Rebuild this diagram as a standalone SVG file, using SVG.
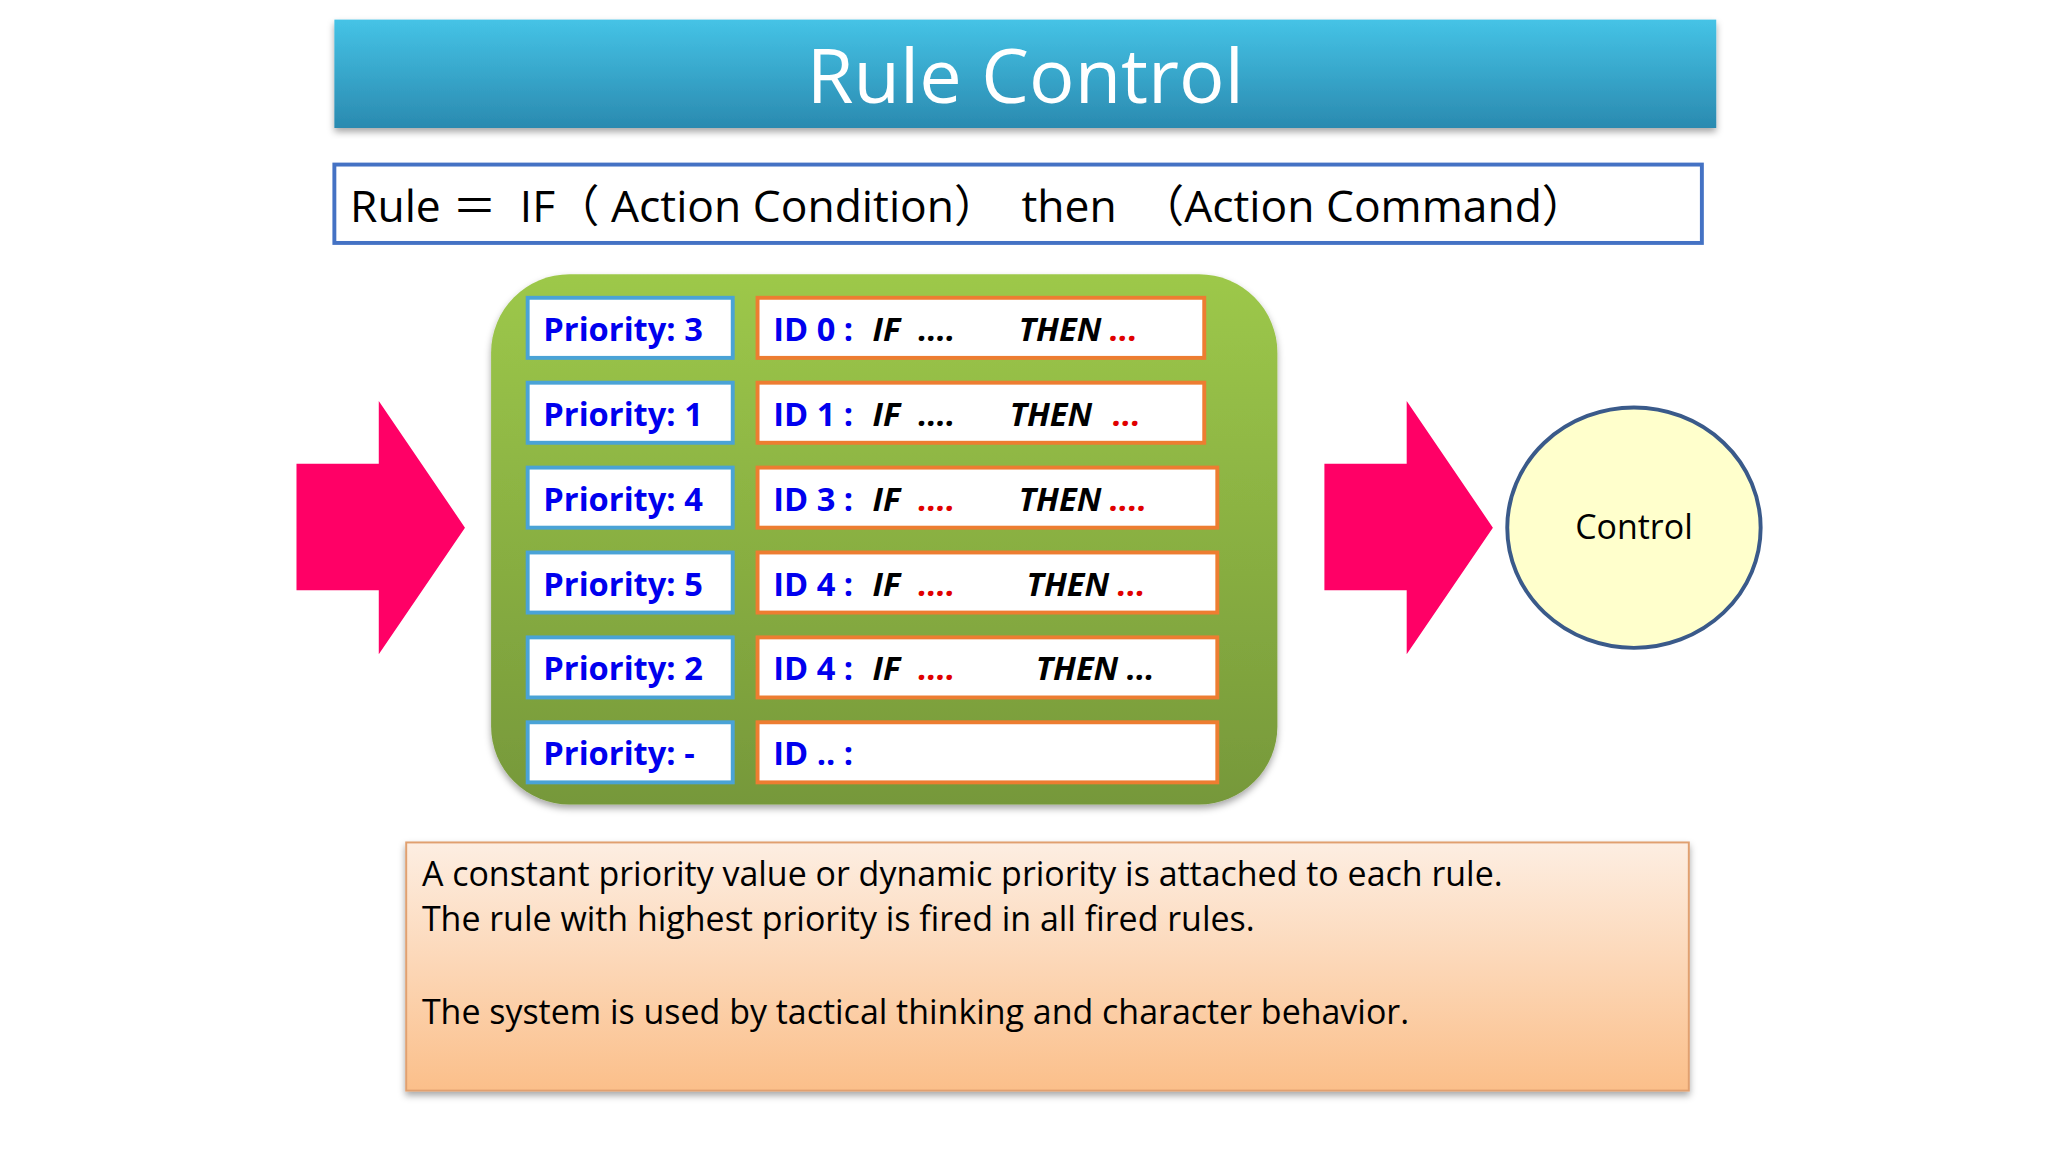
<svg xmlns="http://www.w3.org/2000/svg" width="2048" height="1152" viewBox="0 0 2048 1152">
<defs>
<linearGradient id="gt" x1="0" y1="0" x2="0" y2="1"><stop offset="0" stop-color="#45c3e6"/><stop offset="1" stop-color="#2a8ab0"/></linearGradient>
<linearGradient id="gg" x1="0" y1="0" x2="0" y2="1"><stop offset="0" stop-color="#9dc84a"/><stop offset="1" stop-color="#76983a"/></linearGradient>
<linearGradient id="go" x1="0" y1="0" x2="0" y2="1"><stop offset="0" stop-color="#fdeee2"/><stop offset="1" stop-color="#fbbf8a"/></linearGradient>
<filter id="sh" x="-5%" y="-5%" width="110%" height="115%"><feDropShadow dx="0" dy="3" stdDeviation="3" flood-opacity="0.35"/></filter>
<style>
.p{fill:#fff;stroke:#4aa3d6;stroke-width:3}
.i{fill:#fff;stroke:#ed7d31;stroke-width:3}
.pt{font-family:"Open Sans","Liberation Sans",sans-serif;font-weight:bold;font-size:25px;fill:#0000ee}
.it{font-family:"Open Sans","Liberation Sans",sans-serif;font-weight:bold;font-style:italic;font-size:25px;fill:#000}
.r{fill:#e00000}
.tx{font-family:"Open Sans","Liberation Sans",sans-serif;font-size:26px;fill:#000}
</style>
</defs>
<rect width="2048" height="1152" fill="#fff"/>
<g transform="scale(1.30612)">
<g id="title"><rect x="256" y="15" width="1058" height="83" fill="url(#gt)" filter="url(#sh)"/>
<text x="785" y="79" text-anchor="middle" font-family="'Open Sans','Liberation Sans',sans-serif" font-size="58" fill="#fff">Rule Control</text></g>
<g id="rule"><rect x="256" y="126" width="1047" height="60" fill="#fff" stroke="#4472c4" stroke-width="3"/>
<text x="268" y="170" font-family="'Open Sans','Liberation Sans','Noto Sans CJK JP',sans-serif" font-size="34" fill="#000" xml:space="preserve">Rule ＝  IF（ Action Condition）  then  （Action Command）</text></g>
<g id="rules"><rect x="376" y="210" width="602" height="406" rx="60" fill="url(#gg)" filter="url(#sh)"/>
<rect class="p" x="404" y="228" width="157" height="46"/><rect class="i" x="580" y="228" width="342" height="46"/>
<text class="pt" x="416" y="261">Priority: 3</text><text class="pt" x="592" y="261">ID 0 :</text><text class="it" x="668" y="261">IF</text><text class="it" x="703" y="261">....</text><text class="it" x="780" y="261">THEN <tspan class="r">...</tspan></text>
<rect class="p" x="404" y="293" width="157" height="46"/><rect class="i" x="580" y="293" width="342" height="46"/>
<text class="pt" x="416" y="326">Priority: 1</text><text class="pt" x="592" y="326">ID 1 :</text><text class="it" x="668" y="326">IF</text><text class="it" x="703" y="326">....</text><text class="it" x="773" y="326">THEN</text><text class="it r" x="852" y="326">...</text>
<rect class="p" x="404" y="358" width="157" height="46"/><rect class="i" x="580" y="358" width="352" height="46"/>
<text class="pt" x="416" y="391">Priority: 4</text><text class="pt" x="592" y="391">ID 3 :</text><text class="it" x="668" y="391">IF</text><text class="it r" x="703" y="391">....</text><text class="it" x="780" y="391">THEN <tspan class="r">....</tspan></text>
<rect class="p" x="404" y="423" width="157" height="46"/><rect class="i" x="580" y="423" width="352" height="46"/>
<text class="pt" x="416" y="456">Priority: 5</text><text class="pt" x="592" y="456">ID 4 :</text><text class="it" x="668" y="456">IF</text><text class="it r" x="703" y="456">....</text><text class="it" x="786" y="456">THEN <tspan class="r">...</tspan></text>
<rect class="p" x="404" y="488" width="157" height="46"/><rect class="i" x="580" y="488" width="352" height="46"/>
<text class="pt" x="416" y="521">Priority: 2</text><text class="pt" x="592" y="521">ID 4 :</text><text class="it" x="668" y="521">IF</text><text class="it r" x="703" y="521">....</text><text class="it" x="793" y="521">THEN ...</text>
<rect class="p" x="404" y="553" width="157" height="46"/><rect class="i" x="580" y="553" width="352" height="46"/>
<text class="pt" x="416" y="586">Priority: -</text><text class="pt" x="592" y="586">ID .. :</text></g>
<g id="connectors">
<polygon points="227,355 290,355 290,307 356,404 290,501 290,452 227,452" fill="#ff0066"/>
<polygon points="1014,355 1077,355 1077,307 1143,404 1077,501 1077,452 1014,452" fill="#ff0066"/>
</g>
<g id="control"><ellipse cx="1251" cy="404" rx="97" ry="92" fill="#ffffcc" stroke="#3a5a8a" stroke-width="3"/>
<text x="1251" y="413" text-anchor="middle" class="tx">Control</text></g>
<g id="note"><rect x="311" y="645" width="982" height="190" fill="url(#go)" stroke="#e0a070" stroke-width="1.5" filter="url(#sh)"/>
<text class="tx" x="323" y="678">A constant priority value or dynamic priority is attached to each rule.</text>
<text class="tx" x="323" y="713">The rule with highest priority is fired in all fired rules.</text>
<text class="tx" x="323" y="784">The system is used by tactical thinking and character behavior.</text></g>
</g>
</svg>
